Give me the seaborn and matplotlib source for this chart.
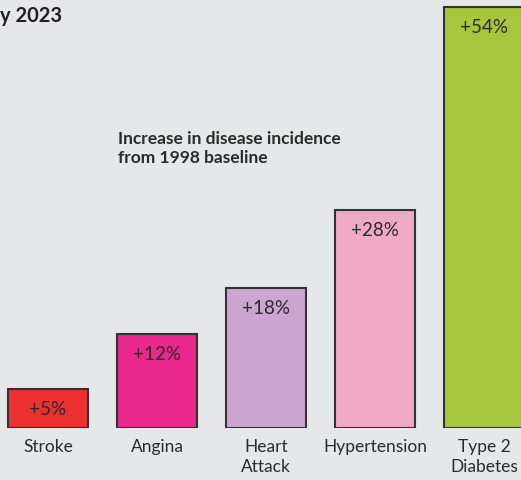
import pandas as pd
import seaborn as sns
import matplotlib.pyplot as plt

# Chart data
categories = ["Stroke", "Angina", "Heart\nAttack", "Hypertension", "Type 2\nDiabetes"]
increase_pct = [5, 12, 18, 28, 54]
value_labels = ["+5%", "+12%", "+18%", "+28%", "+54%"]
bar_colors = ["#ec2f2f", "#e8288c", "#cca6d1", "#f0a9c4", "#a6c63e"]

sns.set_theme(style="white")
plt.rcParams['font.family'] = ['Lato', 'DejaVu Sans']

bg = "#e6e7e8"
df = pd.DataFrame({"disease": categories, "pct": increase_pct})

fig = plt.figure(figsize=(5.21, 4.81), dpi=100, facecolor=bg)
ax = fig.add_axes([0, 52 / 481, 1, 429 / 481])
ax.set_facecolor(bg)

sns.barplot(
    data=df, x="disease", y="pct", hue="disease",
    palette=bar_colors, legend=False, width=0.725,
    edgecolor="#333333", linewidth=1.5, saturation=1, ax=ax
)

ax.set_xlim(-48 / 109, (521 - 48) / 109)
ax.set_ylim(0, 429 / 7.8)
ax.set_xlabel("")
ax.set_ylabel("")
ax.set_yticks([])
ax.tick_params(axis="x", length=0, pad=7, labelsize=12.5, labelcolor="#2b2b2b")
for lbl in ax.get_xticklabels():
    lbl.set_linespacing(1.35)
for s in ax.spines.values():
    s.set_visible(False)

# value labels inside the top of each bar
for i, (v, txt) in enumerate(zip(increase_pct, value_labels)):
    ax.annotate(txt, (i, v), xytext=(0, -14), textcoords="offset points",
                ha="center", va="center", fontsize=13.5, color="#2b2b2b")

fig.text(118 / 521, 1 - 131 / 481, "Increase in disease incidence\nfrom 1998 baseline",
         ha="left", va="top", fontsize=12.5, fontweight="bold", color="#2b2b2b",
         linespacing=1.25)
fig.text(0, 1 - 6 / 481, "y 2023", ha="left", va="top", fontsize=14.5,
         fontweight="bold", color="#231f20")

fig.savefig("out.png", dpi=100, facecolor=bg)
